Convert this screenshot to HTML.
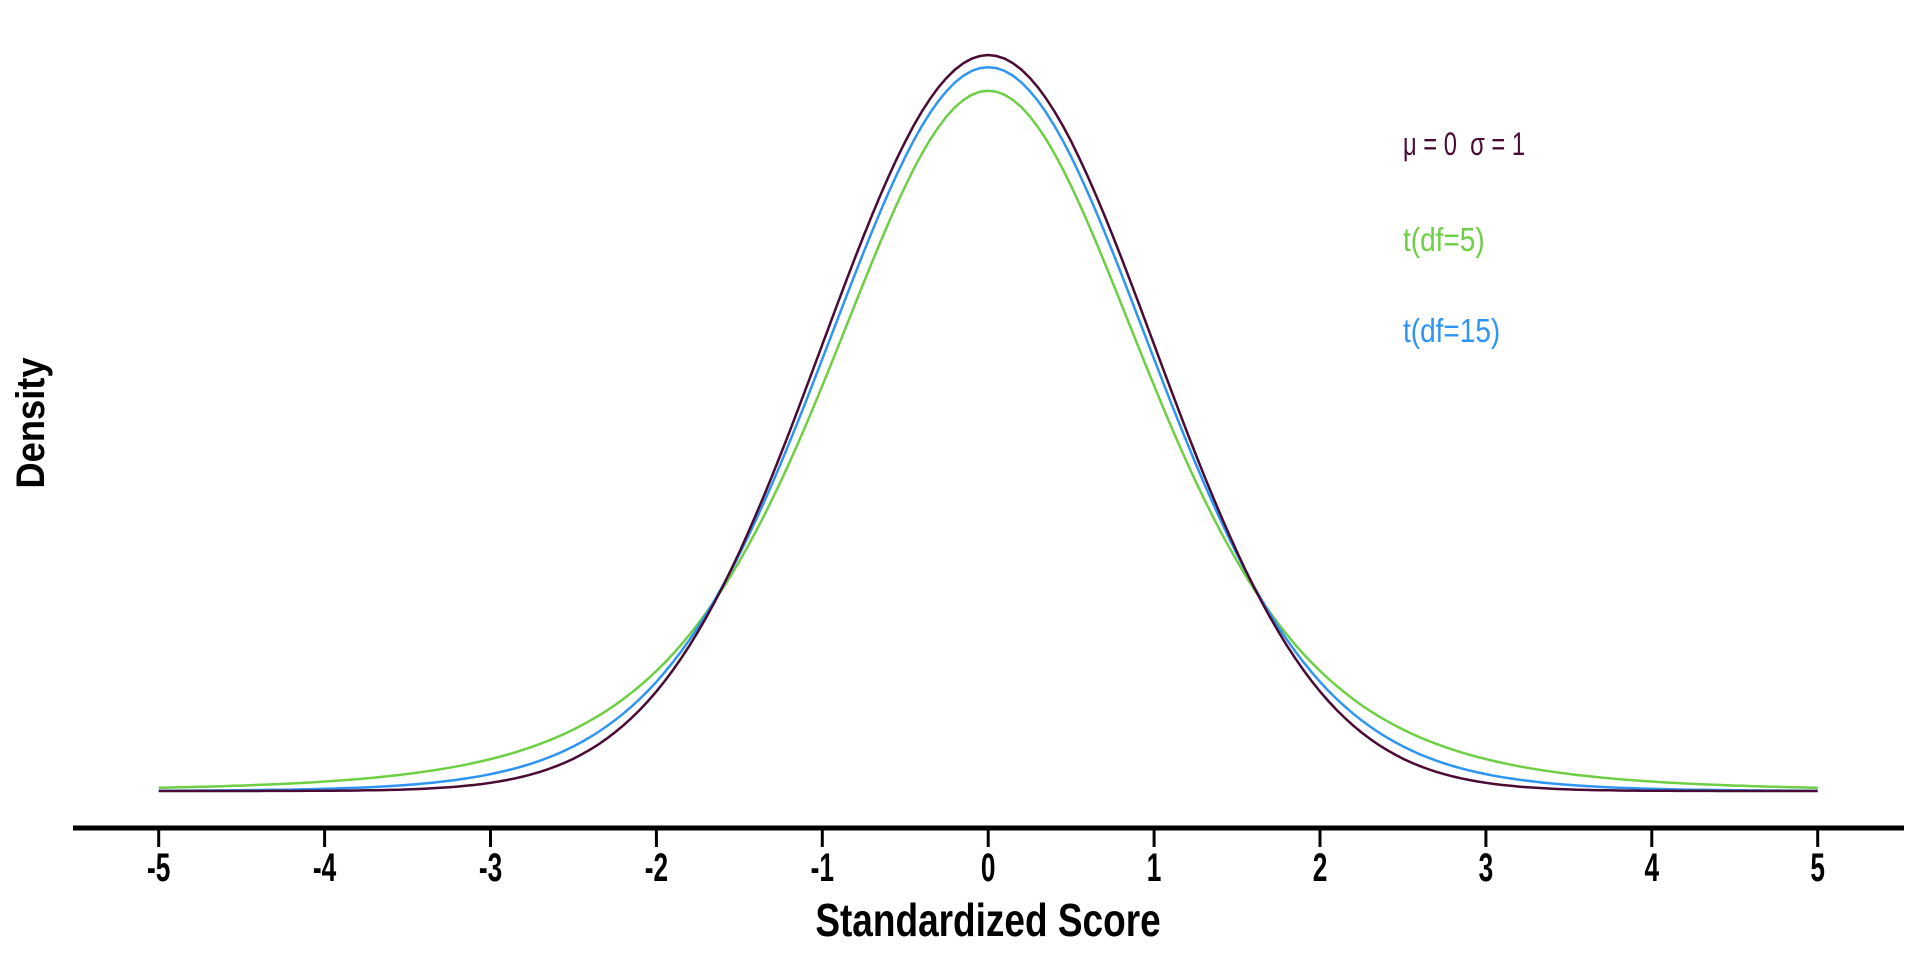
<!DOCTYPE html>
<html><head><meta charset="utf-8"><style>
html,body{margin:0;padding:0;background:#fff;width:1920px;height:960px;overflow:hidden}
svg{display:block}
text{font-family:"Liberation Sans",Arial,sans-serif}
</style></head><body>
<svg id="s" width="1920" height="960" viewBox="0 0 1920 960" xmlns="http://www.w3.org/2000/svg">
<line x1="73" y1="828" x2="1904" y2="828" stroke="#000" stroke-width="5"/>
<g id="ticks" stroke="#000" stroke-width="3"></g>
<g id="labels" font-size="25" font-weight="bold" text-anchor="middle" fill="#000"></g>
<text transform="translate(988,936) scale(1,1.25)" font-size="37" font-weight="bold" text-anchor="middle">Standardized Score</text>
<text transform="translate(44,423) rotate(-90) scale(1.1,1.2)" font-size="33" font-weight="bold" text-anchor="middle">Density</text>
<path id="pg" fill="none" stroke="#6ecf45" stroke-width="2.5"/>
<path id="pb" fill="none" stroke="#2e95f5" stroke-width="2.5"/>
<path id="pn" fill="none" stroke="#4a0a33" stroke-width="2.5"/>
<text transform="translate(1403,155) scale(0.95,1.3)" font-size="25" fill="#4a0a33" xml:space="preserve">μ = 0  σ = 1</text>
<text transform="translate(1403,251) scale(1,1.2)" font-size="28" fill="#6ecf45">t(df=5)</text>
<text transform="translate(1403,342) scale(1,1.2)" font-size="28" fill="#2e95f5">t(df=15)</text>
</svg>
<script>
var X0=988.2,SX=165.9,Y0=791,SY=1844.8;
function n(x){return Math.exp(-x*x/2)/Math.sqrt(2*Math.PI);}
function t5(x){return 0.37961*Math.pow(1+x*x/5,-3);}
function t15(x){return 0.39236*Math.pow(1+x*x/15,-8);}
function path(f){var d="";for(var i=-100;i<=100;i++){var x=i/20;d+=(i==-100?"M":"L")+(X0+SX*x).toFixed(1)+","+(Y0-SY*f(x)).toFixed(1);}return d;}
document.getElementById("pg").setAttribute("d",path(t5));
document.getElementById("pb").setAttribute("d",path(t15));
document.getElementById("pn").setAttribute("d",path(n));
var tk="",lb="";
for(var k=-5;k<=5;k++){var x=(X0+SX*k).toFixed(1);
tk+='<line x1="'+x+'" y1="828" x2="'+x+'" y2="847"/>';
lb+='<text transform="translate('+x+',881) scale(1.05,1.6)">'+k+'</text>';}
document.getElementById("ticks").innerHTML=tk;
document.getElementById("labels").innerHTML=lb;
</script>
</body></html>
